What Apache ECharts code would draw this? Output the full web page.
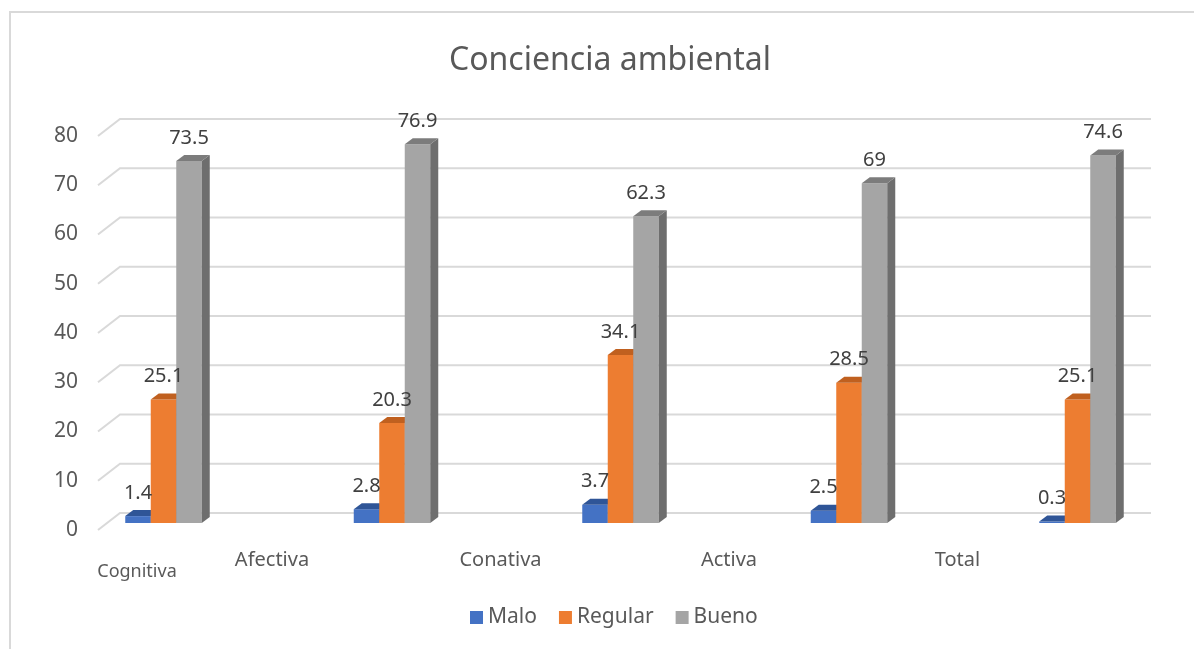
<!DOCTYPE html>
<html>
<head>
<meta charset="utf-8">
<title>Conciencia ambiental</title>
<script src="https://cdn.jsdelivr.net/npm/echarts@6/dist/echarts.min.js"></script>
<style>
  html, body { margin: 0; padding: 0; background: #ffffff; }
  #chart { width: 1194px; height: 649px; }
</style>
</head>
<body>
<div id="chart"></div>
<script>
// Dimensions of environmental awareness, percentage of respondents per level
const categories = ['Cognitiva', 'Afectiva', 'Conativa', 'Activa', 'Total'];
const seriesNames = ['Malo', 'Regular', 'Bueno'];
const malo = [1.4, 2.8, 3.7, 2.5, 0.3];
const regular = [25.1, 20.3, 34.1, 28.5, 25.1];
const bueno = [73.5, 76.9, 62.3, 69, 74.6];
const yTicks = [0, 10, 20, 30, 40, 50, 60, 70, 80];

// Face colours for each series: front, top, side
const palette = [
  { front: '#4472c4', top: '#2f5597', side: '#2b4f8c' },
  { front: '#ed7d31', top: '#c0601f', side: '#ae5319' },
  { front: '#a5a5a5', top: '#7c7c7c', side: '#6e6e6e' }
];

// 3D look: bar width, extrusion depth and the floor offset of the bars
const BAR_W = 25.5;
const DEPTH_X = 8;
const DEPTH_Y = 6;
const FLOOR_DY = 7;
// Offset of the back wall relative to the front plane
const WALL_DX = 22;
const WALL_DY = 17;

const FONT = 'Noto Sans';
const TEXT = '#595959';

function barRenderer(k) {
  return function (params, api) {
    const idx = api.value(0);
    const val = api.value(1);
    const base = api.coord([idx, 0]);
    const top = api.coord([idx, val]);
    const x0 = base[0] - 1.5 * BAR_W + k * BAR_W;
    const x1 = x0 + BAR_W;
    const yb = base[1] - FLOOR_DY;
    const yt = top[1] - FLOOR_DY;
    const c = palette[k];
    const z = k * 10;
    return {
      type: 'group',
      children: [
        {
          type: 'rect',
          z2: z,
          shape: { x: x0, y: yt, width: BAR_W, height: yb - yt },
          style: { fill: c.front }
        },
        {
          type: 'polygon',
          z2: z + 1,
          shape: { points: [[x1, yt], [x1 + DEPTH_X, yt - DEPTH_Y], [x1 + DEPTH_X, yb - DEPTH_Y], [x1, yb]] },
          style: { fill: c.side }
        },
        {
          type: 'polygon',
          z2: z + 2,
          shape: { points: [[x0, yt], [x1, yt], [x1 + DEPTH_X, yt - DEPTH_Y], [x0 + DEPTH_X, yt - DEPTH_Y]] },
          style: { fill: c.top }
        },
        {
          type: 'text',
          z2: 1000,
          style: {
            text: String(val),
            x: x0 + BAR_W / 2,
            y: yt - 23,
            align: 'center',
            verticalAlign: 'middle',
            fontFamily: FONT,
            fontSize: 20,
            fill: '#404040'
          }
        }
      ]
    };
  };
}

function wallRenderer(params, api) {
  const v = api.value(0);
  const left = api.coord([0, v]);
  const right = api.coord([1, v]);
  return {
    type: 'polyline',
    shape: {
      points: [
        [left[0], left[1]],
        [left[0] + WALL_DX, left[1] - WALL_DY],
        [right[0], right[1] - WALL_DY]
      ]
    },
    style: { stroke: '#d9d9d9', lineWidth: 2, fill: 'none' }
  };
}

const seriesData = [malo, regular, bueno];

const chart = echarts.init(document.getElementById('chart'), null, { renderer: 'canvas' });

chart.setOption({
  animation: false,
  backgroundColor: '#ffffff',
  title: {
    text: 'Conciencia ambiental',
    left: 444,
    top: 40,
    textStyle: { fontFamily: FONT, fontSize: 32, fontWeight: 'normal', color: TEXT }
  },
  legend: {
    data: seriesNames,
    left: 470,
    top: 607,
    icon: 'rect',
    itemWidth: 13,
    itemHeight: 13,
    itemGap: 22,
    padding: 0,
    selectedMode: false,
    textStyle: { fontFamily: FONT, fontSize: 21, color: TEXT }
  },
  graphic: [
    {
      type: 'rect',
      silent: true,
      z: -10,
      shape: { x: 10, y: 12, width: 1400, height: 900 },
      style: { fill: 'none', stroke: '#d9d9d9', lineWidth: 2 }
    }
  ],
  grid: [
    { left: 98, right: 43, top: 136, bottom: 119 },
    { left: 49.25, right: 2.25, top: 136, bottom: 119 }
  ],
  xAxis: [
    { type: 'value', gridIndex: 0, min: 0, max: 1, show: false },
    {
      type: 'category',
      gridIndex: 1,
      data: categories,
      axisLine: { show: false },
      axisTick: { show: false },
      splitLine: { show: false },
      axisLabel: {
        interval: 0,
        margin: 20,
        color: TEXT,
        fontFamily: FONT,
        formatter: function (value, i) {
          return i === 0 ? '{first|' + value + '}' : '{rest|' + value + '}';
        },
        rich: {
          first: { fontFamily: FONT, fontSize: 18, color: TEXT, padding: [13, 53, 0, 0] },
          rest: { fontFamily: FONT, fontSize: 20, color: TEXT, padding: [0, 240, 0, 0] }
        }
      }
    }
  ],
  yAxis: [
    {
      type: 'value',
      gridIndex: 0,
      min: 0,
      max: 80,
      interval: 10,
      axisLine: { show: false },
      axisTick: { show: false },
      splitLine: { show: false },
      axisLabel: { margin: 20, color: TEXT, fontFamily: FONT, fontSize: 21 }
    },
    {
      type: 'value',
      gridIndex: 1,
      min: 0,
      max: 80,
      interval: 10,
      show: false,
      splitLine: { show: false }
    }
  ],
  series: [
    {
      name: 'walls',
      type: 'custom',
      xAxisIndex: 0,
      yAxisIndex: 0,
      z: 1,
      silent: true,
      renderItem: wallRenderer,
      data: yTicks.map(function (v) { return [v]; }),
      encode: { y: 0 }
    }
  ].concat(seriesNames.map(function (name, k) {
    return {
      name: name,
      type: 'custom',
      xAxisIndex: 1,
      yAxisIndex: 1,
      z: 2,
      silent: true,
      itemStyle: { color: palette[k].front },
      renderItem: barRenderer(k),
      data: seriesData[k].map(function (v, i) { return [i, v]; }),
      encode: { x: 0, y: 1 }
    };
  }))
});
</script>
</body>
</html>
